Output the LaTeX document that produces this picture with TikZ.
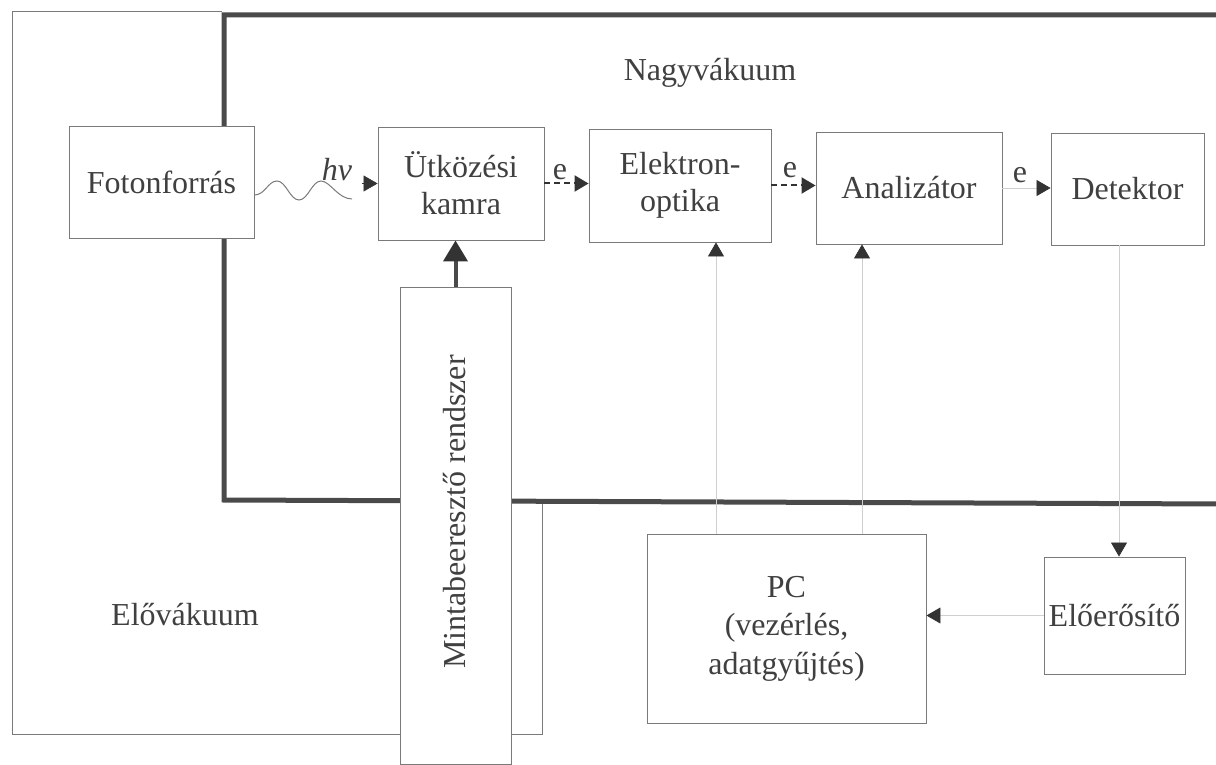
\documentclass[tikz,border=0pt]{standalone}
\usepackage{fontspec}
\setmainfont{Liberation Serif}
\usetikzlibrary{arrows.meta,calc}
\definecolor{txt}{HTML}{404040}
\definecolor{boxc}{HTML}{7A7A7A}
\definecolor{framec}{HTML}{4A4A4A}
\definecolor{faintc}{HTML}{CFCFCF}
\definecolor{tipc}{HTML}{333333}
\tikzset{
 box/.style={draw=boxc, line width=0.9pt, fill=white, inner sep=0pt, align=center, text=txt, font=\fontsize{32}{37}\selectfont},
 lbl/.style={text=txt, font=\fontsize{32}{37}\selectfont, inner sep=0pt},
 tiparrow/.style={-{Triangle[length=14pt,width=16pt,color=tipc]}},
 bigtip/.style={-{Triangle[length=21pt,width=24pt,color=tipc]}},
 faintline/.style={draw=faintc, line width=0.8pt},
 dashline/.style={draw=tipc, line width=2pt, dash pattern=on 6pt off 4pt},
}
\begin{document}
\begin{tikzpicture}[x=1pt,y=-1pt]
\useasboundingbox (0,0) rectangle (1216,765);
% Elovakuum outline
\draw[boxc, line width=0.9pt] (222,11) -- (12,11) -- (12,734) -- (542,734) -- (542,501);
% Nagyvakuum thick frame
\draw[framec, line width=5pt, line join=miter] (1225,15) -- (224,15) -- (224,500) -- (1225,504);

\node[lbl] (nagy) at (710,73) {Nagyvákuum};
\node[lbl] (elov) at (185,615) {Elővákuum};

\node[box, minimum width=185pt, minimum height=112pt] (fot) at (161.5,182) {Fotonforrás};
\node[box, minimum width=166pt, minimum height=113pt] (ut) at (461,183.5) {Ütközési\\kamra};
\node[box, minimum width=182pt, minimum height=113pt] (eo) at (680,185.5) {Elektron-\\optika};
\node[box, minimum width=186pt, minimum height=112pt] (an) at (909,188) {Analizátor};
\node[box, minimum width=153pt, minimum height=112pt] (det) at (1127.5,189) {Detektor};
\node[box, minimum width=279pt, minimum height=189pt, font=\fontsize{32}{38.5}\selectfont] (pc) at (786.5,628.5) {PC\\(vezérlés,\\adatgyűjtés)};
\node[box, minimum width=141pt, minimum height=117pt] (pre) at (1114.5,615.5) {Előerősítő};
\node[box, minimum width=111pt, minimum height=477pt] (mb) at (455.5,525.5) {};
\node[lbl, rotate=90] (mbl) at (455,512) {Mintabeeresztő rendszer};

% photon wave
\coordinate (w0) at ($(fot.east)+(0,13)$);
\draw[boxc, line width=1pt] (w0) .. controls (265,195) and (268,181) .. (277,181)
  .. controls (286,181) and (290,200) .. (299,200)
  .. controls (308,200) and (312,181) .. (321,181)
  .. controls (330,181) and (338,199) .. (352,199);
\coordinate (wt) at ($(ut.west)+(-16,0)$);
\draw[tipc, line width=0.5pt, tiparrow] (wt) -- (ut.west);
\node[lbl, font=\fontsize{32}{37}\selectfont\itshape] (hv) at (337,170) {hν};

% electron arrows
\draw[dashline, tiparrow] (ut.east) -- (ut.east -| eo.west);
\node[lbl] (e1) at (560,172) {e};
\draw[dashline, tiparrow] (eo.east) -- (eo.east -| an.west);
\node[lbl] (e2) at (790,170) {e};
\draw[faintline, tiparrow] (an.east) -- (an.east -| det.west);
\node[lbl] (e3) at (1020,175) {e};

% sample insertion
\draw[framec, line width=4pt, bigtip] (mb.north) -- (mb.north |- ut.south);

% control and signal lines
\coordinate (c1) at (716,0);
\coordinate (c2) at (862,0);
\coordinate (c3) at (1119,0);
\draw[faintline, tiparrow] (pc.north -| c1) -- (eo.south -| c1);
\draw[faintline, tiparrow] (pc.north -| c2) -- (an.south -| c2);
\draw[faintline, tiparrow] (det.south -| c3) -- (pre.north -| c3);
\draw[faintline, tiparrow] (pre.west) -- (pc.east |- pre.west);
\end{tikzpicture}
\end{document}
